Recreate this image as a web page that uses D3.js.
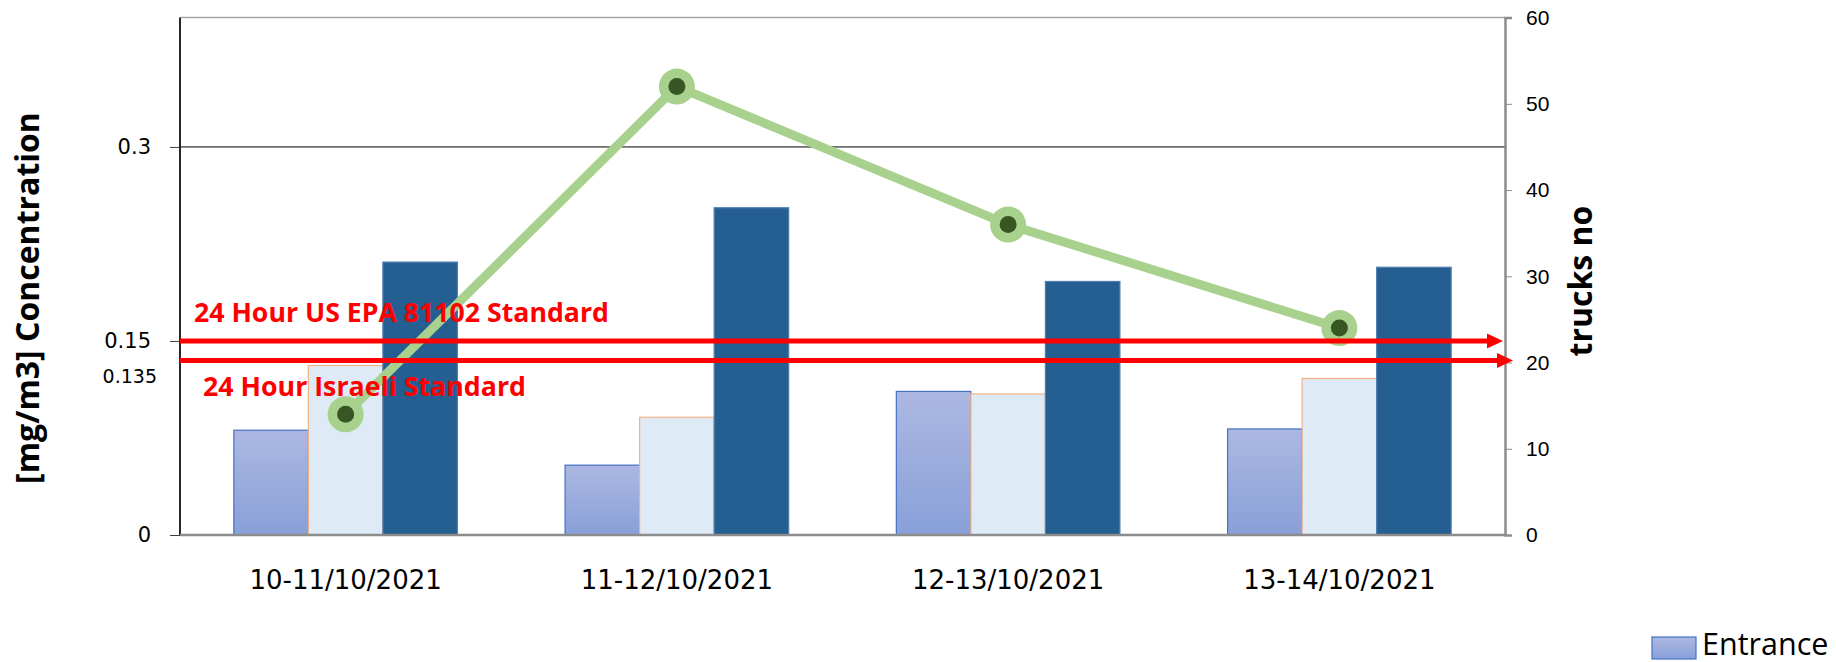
<!DOCTYPE html>
<html lang="en">
<head>
<meta charset="UTF-8">
<title>Concentration and trucks</title>
<script src="https://d3js.org/d3.v7.min.js"></script>
<style>
  body { margin: 0; background: #fff; }
</style>
</head>
<body>
<script>
  // data
  var categories = ["10-11/10/2021", "11-12/10/2021", "12-13/10/2021", "13-14/10/2021"];
  var seriesNames = ["Entrance", "Middle", "Exit"];
  var entrance = [0.081, 0.054, 0.111, 0.082];
  var middle = [0.131, 0.091, 0.109, 0.121];
  var exit = [0.211, 0.253, 0.196, 0.207];
  var trucks = [14, 52, 36, 24];
  var leftTicks = [0, 0.135, 0.15, 0.3];
  var rightTicks = [0, 10, 20, 30, 40, 50, 60];
  var standardNames = ["24 Hour US EPA 81102 Standard", "24 Hour Israeli Standard"];
  var standardValues = [0.15, 0.135];

  var width = 1836, height = 662;
  // "top" is taken by window.top, so plot edges get their own names
  var plotLeft = 180, plotRight = 1505, plotTop = 17.6, plotBottom = 535;

  var svg = d3.select("body").append("svg")
      .attr("width", width)
      .attr("height", height);

  var defs = svg.append("defs");
  var grad = defs.append("linearGradient")
      .attr("id", "entGrad")
      .attr("x1", 0).attr("y1", 0).attr("x2", 0).attr("y2", 1);
  grad.append("stop").attr("offset", "0%").attr("stop-color", "#acb8e2");
  grad.append("stop").attr("offset", "100%").attr("stop-color", "#88a0d8");

  var x0 = d3.scaleBand()
      .domain(categories)
      .range([plotLeft, plotRight])
      .paddingInner(0.325)
      .paddingOuter(0.1625);
  var x1 = d3.scaleBand()
      .domain(seriesNames)
      .range([0, x0.bandwidth()]);
  var yL = d3.scaleLinear().domain([0, 0.4]).range([plotBottom, plotTop]);
  var yR = d3.scaleLinear().domain([0, 60]).range([plotBottom, plotTop]);

  // plot frame
  svg.append("line")
      .attr("x1", plotLeft).attr("x2", plotRight)
      .attr("y1", plotTop).attr("y2", plotTop)
      .attr("stroke", "#a6a6a6").attr("stroke-width", 1.5);

  // gridline at 0.3
  svg.append("line")
      .attr("x1", plotLeft).attr("x2", plotRight)
      .attr("y1", yL(0.3)).attr("y2", yL(0.3))
      .attr("stroke", "#000").attr("stroke-width", 1);

  // bars
  var rows = categories.map(function (c, i) {
    return [
      {cat: c, key: seriesNames[0], v: entrance[i]},
      {cat: c, key: seriesNames[1], v: middle[i]},
      {cat: c, key: seriesNames[2], v: exit[i]}
    ];
  });
  var fills = {Entrance: "url(#entGrad)", Middle: "#deeaf6", Exit: "#255e91"};
  var strokes = {Entrance: "#4472c4", Middle: "#f4b183", Exit: "#4f7fb0"};

  svg.append("g").selectAll("g")
      .data(rows)
      .join("g")
      .attr("transform", function (d) { return "translate(" + x0(d[0].cat) + ",0)"; })
      .selectAll("rect")
      .data(function (d) { return d; })
      .join("rect")
      .attr("x", function (d) { return x1(d.key); })
      .attr("y", function (d) { return yL(d.v); })
      .attr("width", x1.bandwidth())
      .attr("height", function (d) { return plotBottom - yL(d.v); })
      .attr("fill", function (d) { return fills[d.key]; })
      .attr("stroke", function (d) { return strokes[d.key]; })
      .attr("stroke-width", 1.2);

  // left axis
  var axL = svg.append("g")
      .attr("transform", "translate(" + plotLeft + ",0)")
      .call(d3.axisLeft(yL).tickValues(leftTicks).tickSize(10).tickPadding(19)
          .tickFormat(function (d) { return String(d); }));
  axL.select(".domain").remove();
  axL.selectAll(".tick line").attr("stroke", "#404040");
  axL.selectAll(".tick text")
      .attr("font-family", "DejaVu Sans").attr("font-size", 21).attr("fill", "#000");
  // 0.135 has no tick mark and sits a little lower, as in the original
  axL.selectAll(".tick").filter(function (d) { return d === 0.135; })
      .each(function () {
        d3.select(this).select("line").remove();
        d3.select(this).select("text")
            .attr("x", -23).attr("dy", "1.15em").attr("font-size", 19);
      });
  svg.append("line")
      .attr("x1", plotLeft).attr("x2", plotLeft)
      .attr("y1", plotTop).attr("y2", plotBottom)
      .attr("stroke", "#262626").attr("stroke-width", 2);

  // right axis
  var axR = svg.append("g")
      .attr("transform", "translate(" + plotRight + ",0)")
      .call(d3.axisRight(yR).tickValues(rightTicks).tickSize(7).tickPadding(14));
  axR.select(".domain").attr("stroke", "#8c8c8c").attr("stroke-width", 2.5);
  axR.selectAll(".tick line").attr("stroke", "#8c8c8c");
  axR.selectAll(".tick text")
      .attr("font-family", "Liberation Sans, Arial").attr("font-size", 21).attr("fill", "#000");

  // baseline
  svg.append("line")
      .attr("x1", plotLeft).attr("x2", plotRight)
      .attr("y1", plotBottom).attr("y2", plotBottom)
      .attr("stroke", "#8c8c8c").attr("stroke-width", 2.5);

  // category labels
  svg.append("g").selectAll("text")
      .data(categories)
      .join("text")
      .attr("x", function (d) { return x0(d) + x0.bandwidth() / 2; })
      .attr("y", 589)
      .attr("text-anchor", "middle")
      .attr("font-family", "DejaVu Sans")
      .attr("font-size", 26)
      .text(function (d) { return d; });

  // trucks line
  var pts = categories.map(function (c, i) {
    return [x0(c) + x0.bandwidth() / 2, yR(trucks[i])];
  });
  svg.append("path")
      .attr("d", d3.line()(pts))
      .attr("fill", "none")
      .attr("stroke", "#a9d18e")
      .attr("stroke-width", 9);
  svg.append("g").selectAll("circle")
      .data(pts)
      .join("circle")
      .attr("cx", function (d) { return d[0]; })
      .attr("cy", function (d) { return d[1]; })
      .attr("r", 18)
      .attr("fill", "#a9d18e");
  svg.append("g").selectAll("circle")
      .data(pts)
      .join("circle")
      .attr("cx", function (d) { return d[0]; })
      .attr("cy", function (d) { return d[1]; })
      .attr("r", 8.5)
      .attr("fill", "#375623");

  // standards: red arrows with labels
  var arrowEnd = [1503, 1513];
  var labelX = [194, 203];
  var labelDy = [-19, 36];
  var labelLen = [415, 323];
  standardValues.forEach(function (v, i) {
    var y = yL(v);
    svg.append("line")
        .attr("x1", plotLeft).attr("x2", arrowEnd[i] - 14)
        .attr("y1", y).attr("y2", y)
        .attr("stroke", "#ff0000").attr("stroke-width", 5);
    svg.append("path")
        .attr("d", "M" + (arrowEnd[i] - 16) + "," + (y - 7.5) + "L" + arrowEnd[i] + "," + y +
            "L" + (arrowEnd[i] - 16) + "," + (y + 7.5) + "Z")
        .attr("fill", "#ff0000");
    svg.append("text")
        .attr("x", labelX[i])
        .attr("y", y + labelDy[i])
        .attr("font-family", "Open Sans")
        .attr("font-weight", "bold")
        .attr("font-size", 27)
        .attr("fill", "#ff0000")
        .attr("textLength", labelLen[i])
        .attr("lengthAdjust", "spacingAndGlyphs")
        .text(standardNames[i]);
  });

  // axis titles
  svg.append("text")
      .attr("transform", "translate(39,298) rotate(-90)")
      .attr("text-anchor", "middle")
      .attr("font-family", "Open Sans")
      .attr("font-weight", "bold")
      .attr("font-size", 32)
      .text("[mg/m3] Concentration");
  svg.append("text")
      .attr("transform", "translate(1592,281) rotate(-90)")
      .attr("text-anchor", "middle")
      .attr("font-family", "Open Sans")
      .attr("font-weight", "bold")
      .attr("font-size", 32)
      .text("trucks no");

  // legend (only the first entry fits in the picture)
  svg.append("rect")
      .attr("x", 1652).attr("y", 637)
      .attr("width", 44).attr("height", 22)
      .attr("fill", "url(#entGrad)")
      .attr("stroke", "#4472c4").attr("stroke-width", 1.2);
  svg.append("text")
      .attr("x", 1702).attr("y", 655)
      .attr("font-family", "Open Sans")
      .attr("font-size", 30.5)
      .text(seriesNames[0]);
</script>
</body>
</html>
